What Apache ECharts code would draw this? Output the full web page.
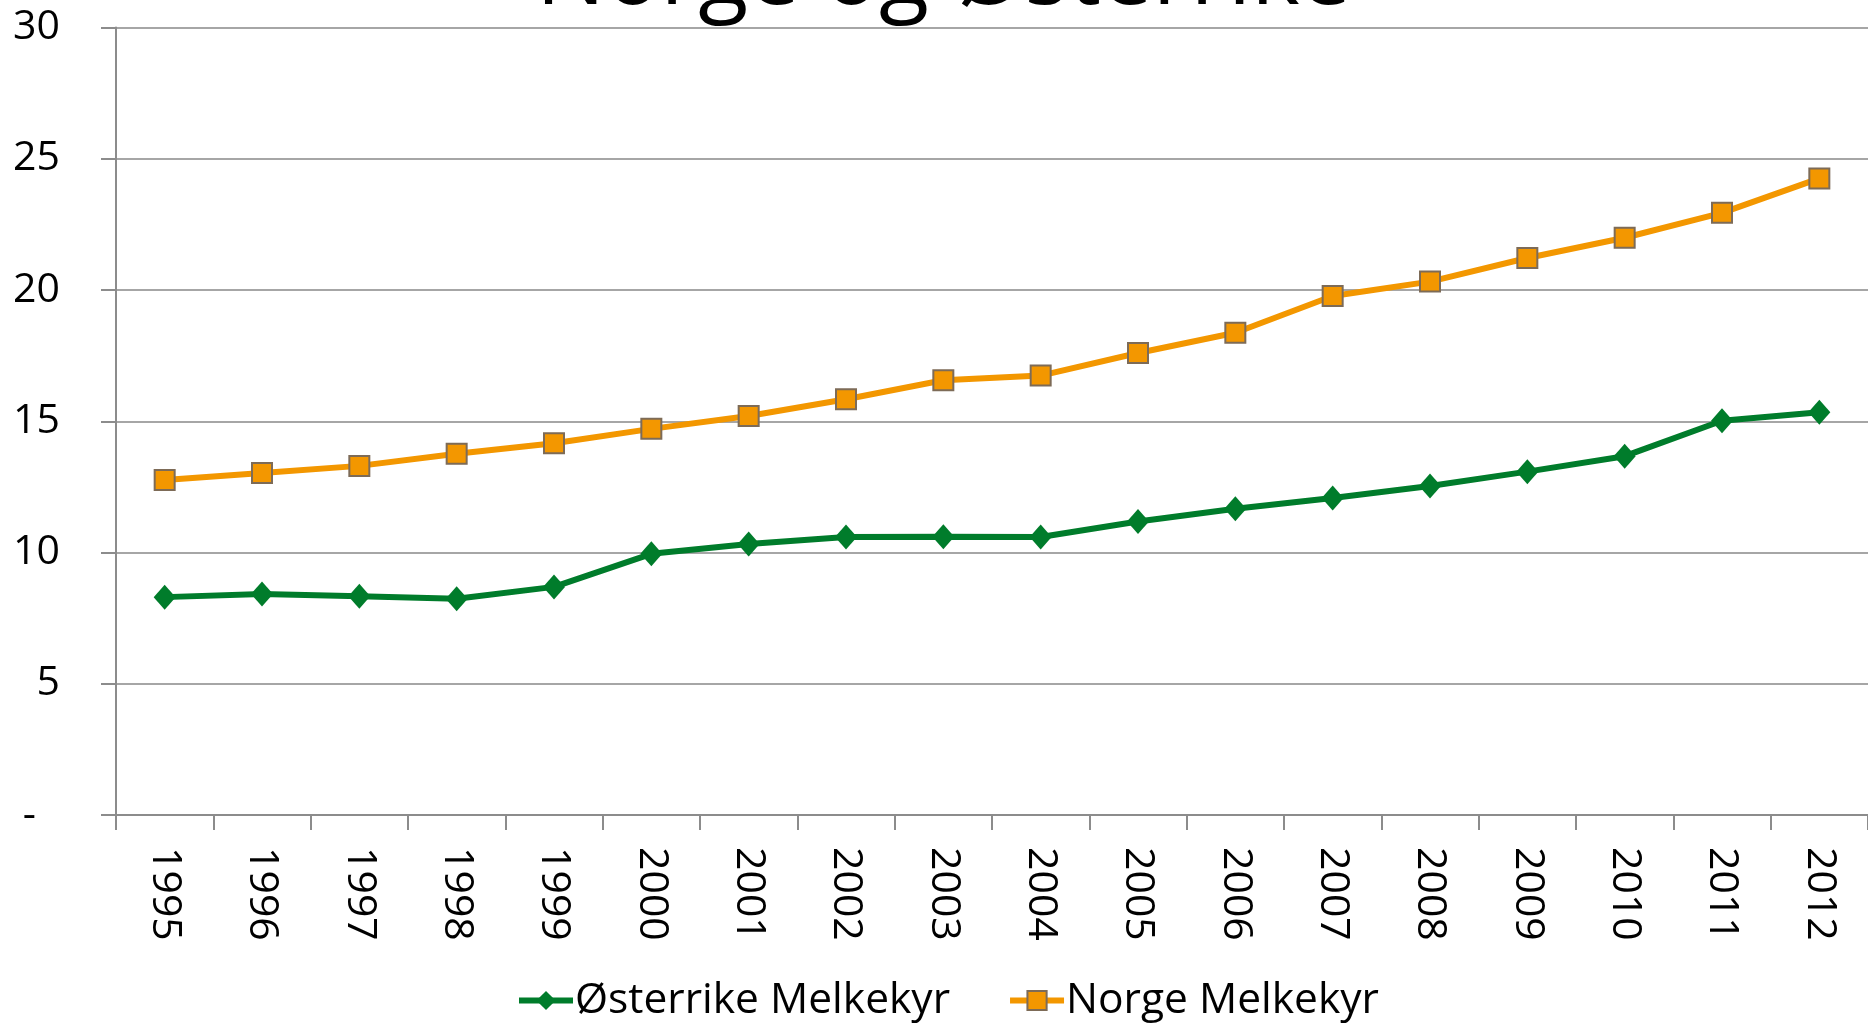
<!DOCTYPE html>
<html>
<head>
<meta charset="utf-8">
<script src="https://cdn.jsdelivr.net/npm/echarts@6/dist/echarts.min.js"></script>
<style>
html,body{margin:0;padding:0;background:#fff;}
#chart{width:1868px;height:1024px;}
</style>
</head>
<body>
<div id="chart"></div>
<script>
const titleText = 'Norge og Østerrike';
const years = ['1995','1996','1997','1998','1999','2000','2001','2002','2003','2004','2005','2006','2007','2008','2009','2010','2011','2012'];
const seriesNames = ['Østerrike Melkekyr', 'Norge Melkekyr'];
const osterrike = [8.30, 8.42, 8.33, 8.24, 8.69, 9.95, 10.32, 10.59, 10.60, 10.59, 11.18, 11.67, 12.08, 12.53, 13.08, 13.67, 15.02, 15.34];
const norge = [12.76, 13.03, 13.30, 13.76, 14.16, 14.71, 15.20, 15.84, 16.56, 16.74, 17.60, 18.37, 19.77, 20.32, 21.22, 21.99, 22.94, 24.25];

const FONT = '"Open Sans", "Noto Sans", sans-serif';
const GREEN = '#007c2b';
const ORANGE = '#f39700';
const chart = echarts.init(document.getElementById('chart'), null, {renderer: 'canvas'});
chart.setOption({
  animation: false,
  backgroundColor: '#ffffff',
  title: {
    text: titleText,
    left: 531,
    top: -73,
    textStyle: {fontFamily: FONT, fontSize: 92, fontWeight: 'normal', color: '#000'}
  },
  legend: {
    top: 974,
    left: 511,
    itemWidth: 54,
    itemHeight: 24,
    itemGap: 57,
    data: [
      {name: seriesNames[0], lineStyle: {width: 6, color: GREEN}},
      {name: seriesNames[1], lineStyle: {width: 6, color: ORANGE}}
    ],
    lineStyle: {width: 6},
    textStyle: {fontFamily: FONT, fontSize: 42.5, color: '#000', padding: [0, 0, 0, -3]}
  },
  grid: {left: 116, right: -8, top: 27.5, bottom: 209, containLabel: false},
  xAxis: {
    type: 'category',
    data: years,
    boundaryGap: true,
    axisLine: {show: true, lineStyle: {color: '#8c8c8c', width: 2}},
    axisTick: {show: true, length: 15, alignWithLabel: false, lineStyle: {color: '#8c8c8c', width: 2}},
    axisLabel: {rotate: -90, margin: 32, fontFamily: FONT, fontSize: 41, color: '#000', interval: 0},
    splitLine: {show: false}
  },
  yAxis: {
    type: 'value',
    min: 0, max: 30, interval: 5,
    axisLine: {show: true, lineStyle: {color: '#8c8c8c', width: 2}},
    axisTick: {show: true, length: 15, lineStyle: {color: '#8c8c8c', width: 2}},
    splitLine: {show: true, lineStyle: {color: '#a6a6a6', width: 2}},
    axisLabel: {
      margin: 56, fontFamily: FONT, fontSize: 41, color: '#000',
      formatter: function (v) { return v === 0 ? '{d|-}' : String(v); },
      rich: {d: {fontFamily: FONT, fontSize: 41, color: '#000', padding: [0, 24, 0, 0]}}
    }
  },
  series: [
    {
      name: seriesNames[0],
      type: 'line',
      data: osterrike,
      symbol: 'diamond',
      symbolSize: [22, 25],
      lineStyle: {color: GREEN, width: 6},
      itemStyle: {color: GREEN, borderWidth: 0}
    },
    {
      name: seriesNames[1],
      type: 'line',
      data: norge,
      symbol: 'rect',
      symbolSize: 20,
      lineStyle: {color: ORANGE, width: 6},
      itemStyle: {color: ORANGE, borderColor: '#7d6b57', borderWidth: 2}
    }
  ]
});
</script>
</body>
</html>
